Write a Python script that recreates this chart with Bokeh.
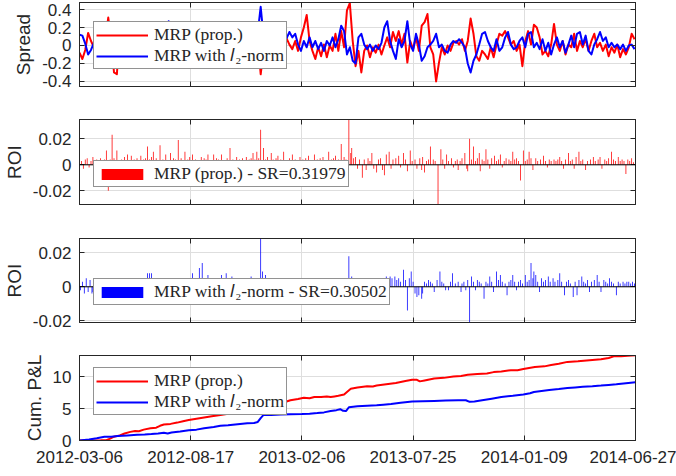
import numpy as np
from bokeh.plotting import figure
from bokeh.layouts import column
from bokeh.models import FixedTicker, Range1d, Legend, LegendItem, LinearAxis, Span
from bokeh.embed import file_html
from bokeh.resources import INLINE

# ---------------- data ----------------
n_days = 581
date_tick_pos = [0, 116, 232, 348, 464, 580]
date_tick_labels = ["2012-03-06", "2012-08-17", "2013-02-06", "2013-07-25", "2014-01-09", "2014-06-27"]

spread_step = 3  # one reading every 3 trading days
spread_prop = [
    -0.08, -0.15, -0.05, 0.14, 0.05, -0.02, 0.03, 0.20, -0.06, 0.08,
    0.31, 0.05, -0.30, -0.32, 0.20, 0.02, -0.10, 0.08, -0.05, 0.12,
    -0.08, 0.04, 0.10, -0.12, 0.06, -0.03, 0.14, -0.06, 0.02, -0.15,
    0.07, 0.11, -0.04, 0.03, -0.11, 0.09, -0.02, 0.13, -0.07, 0.05,
    -0.13, 0.08, 0.00, 0.12, -0.05, 0.21, 0.06, -0.09, 0.10, -0.04,
    0.07, -0.12, 0.24, 0.18, 0.03, -0.08, 0.11, -0.03, 0.05, -0.14,
    0.09, -0.02, 0.06, -0.32, -0.05, 0.10, -0.09, 0.04, 0.13, -0.06,
    0.02, -0.11, 0.08,
    0.01, -0.04, 0.05, -0.06, 0.09, 0.20, 0.34, 0.05, -0.06, -0.15,
    -0.02, -0.12, 0.01, -0.13, 0.00, -0.06, 0.13, -0.06, 0.16, -0.02,
    0.39, 0.47, 0.05, -0.23, -0.06,
    -0.30, -0.06, 0.00, -0.13, -0.02, -0.08, 0.01, -0.10, 0.00, 0.09,
    -0.02, 0.15, 0.05, 0.16, 0.01, 0.13, -0.19, 0.05, -0.04, 0.09,
    -0.06, 0.22, 0.26, 0.35, -0.02, -0.10, -0.40, -0.19, -0.02, -0.10,
    0.00, -0.06, 0.03, 0.05, 0.01, 0.07, -0.06, 0.05, 0.30, 0.13,
    -0.12, -0.17, -0.06, -0.10, -0.15, -0.02, -0.13, 0.01, 0.13, 0.11,
    0.16, 0.09, 0.01, 0.05, -0.06, 0.01, -0.23, 0.05, 0.16, 0.01,
    0.23, 0.20, 0.09, -0.10, -0.06, -0.12, 0.01, 0.24, 0.01, -0.06,
    0.05, -0.10, 0.01, -0.02, 0.13, -0.06, 0.05, -0.02, 0.07, -0.06,
    0.05, 0.13, -0.02, 0.03, -0.06, 0.01, -0.12, -0.02, -0.08, 0.01,
    -0.13, -0.04, -0.10, -0.02, 0.13, 0.07,
]
spread_l2 = [
    0.12, 0.11, 0.02, -0.10, -0.05, 0.03, 0.05, -0.02, 0.08, -0.04,
    0.06, 0.10, -0.08, 0.03, 0.12, -0.06, 0.04, 0.09, -0.03, 0.07,
    -0.10, 0.02, 0.11, -0.05, 0.08, 0.01, -0.07, 0.13, 0.05, -0.02,
    0.15, 0.27, 0.06, -0.04, 0.09, 0.02, -0.08, 0.10, 0.04, -0.03,
    0.07, -0.06, 0.12, 0.03, -0.02, 0.08, -0.09, 0.05, 0.11, 0.00,
    -0.05, 0.09, 0.04, -0.07, 0.06, 0.13, -0.03, 0.02, 0.10, -0.08,
    0.05, 0.12, 0.15, 0.43, 0.10, -0.02, 0.07, 0.04, -0.06, 0.09,
    0.03, 0.12, 0.08,
    0.15, 0.09, 0.13, 0.01, -0.06, 0.05, -0.02, 0.09, -0.02, 0.05,
    -0.04, 0.03, -0.06, 0.05, 0.00, 0.09, -0.02, 0.07, 0.22, 0.16,
    -0.10, -0.02, -0.17, -0.20, 0.09,
    0.13, 0.01, -0.04, 0.01, -0.06, 0.00, -0.04, 0.03, 0.20, 0.27,
    0.05, -0.06, -0.15, 0.07, -0.02, 0.05, 0.27, 0.01, -0.06, 0.13,
    0.01, -0.17, -0.12, -0.02, 0.01, 0.05, 0.13, -0.02, 0.01, -0.06,
    -0.08, 0.01, 0.05, 0.03, 0.07, 0.03, -0.02, -0.20, -0.30, -0.17,
    -0.10, 0.01, 0.13, 0.15, 0.05, -0.02, -0.06, 0.07, -0.06, -0.02,
    0.09, 0.15, 0.01, -0.04, -0.02, 0.05, 0.09, -0.02, 0.13, 0.15,
    -0.02, 0.03, -0.04, 0.07, -0.06, 0.03, -0.10, 0.01, 0.09, -0.02,
    0.05, -0.08, 0.01, 0.11, -0.02, 0.13, 0.15, 0.01, 0.11, -0.06,
    -0.10, 0.01, 0.07, 0.15, 0.05, 0.09, -0.02, 0.03, -0.02, 0.01,
    -0.04, 0.01, -0.06, 0.00, 0.01, -0.04,
]

# ROI per trading day (day index, return)
roi_prop_pts = [
    (2, 0.003), (4, -0.003), (6, 0.004), (8, 0.005), (10, -0.002), (12, 0.003), (14, 0.006), (16, 0.002),
    (18, 0.004), (20, 0.003), (22, 0.005), (24, 0.002), (26, 0.004), (28, 0.011), (30, -0.020), (32, 0.004),
    (34, 0.023), (36, 0.005), (39, 0.011), (41, 0.003), (44, 0.004), (47, 0.006), (50, 0.008), (52, 0.003),
    (54, 0.007), (57, 0.004), (60, 0.005), (62, 0.003), (64, 0.007), (67, 0.004), (69, 0.005), (71, 0.014),
    (73, 0.004), (75, 0.006), (77, 0.010), (80, 0.005), (82, 0.003), (84, 0.015), (87, 0.004), (90, 0.008),
    (92, 0.003), (95, 0.009), (98, 0.005), (100, 0.004), (103, 0.019), (106, 0.005), (108, 0.003), (110, 0.010),
    (113, 0.004), (115, 0.006), (118, 0.008), (121, 0.004), (124, 0.003), (127, 0.006), (130, 0.005), (132, 0.004),
    (134, 0.008), (137, 0.003), (140, 0.008), (143, 0.005), (145, 0.004), (148, 0.008), (151, 0.003), (154, 0.005),
    (157, 0.013), (160, 0.004), (162, 0.003), (164, 0.006), (167, 0.004), (170, 0.005), (172, 0.003), (174, 0.006),
    (177, 0.004), (179, 0.005), (181, 0.009), (183, 0.004), (185, 0.010), (187, 0.005), (189, 0.027), (192, 0.013),
    (194, 0.004), (196, 0.006), (198, 0.003), (200, 0.009), (202, 0.004), (205, 0.005), (207, 0.007), (210, 0.004),
    (213, 0.010), (216, 0.003), (219, 0.005), (222, 0.008), (225, 0.004), (227, 0.003), (230, 0.006), (233, 0.004),
    (236, 0.005), (239, 0.007), (242, 0.003), (245, 0.008), (248, 0.004), (251, 0.005), (254, 0.006), (257, 0.003),
    (260, 0.010), (263, 0.004), (265, 0.005), (267, 0.007), (270, 0.004), (273, 0.016), (276, 0.006), (278, 0.004),
    (281, 0.036), (283, 0.009), (284, 0.013), (286, 0.005), (288, 0.006), (290, -0.003), (292, 0.004), (295, -0.010),
    (297, 0.004), (299, -0.004), (301, 0.005), (303, 0.003), (305, 0.009), (307, -0.003), (310, -0.006), (312, 0.004),
    (314, 0.005), (316, -0.004), (318, -0.008), (320, 0.008), (323, 0.010), (325, -0.003), (327, 0.004), (330, 0.005),
    (333, 0.007), (335, -0.002), (338, 0.009), (340, 0.004), (342, -0.005), (345, 0.011), (347, 0.003), (350, 0.004),
    (352, -0.003), (355, 0.005), (357, -0.004), (358, 0.006), (360, -0.006), (362, 0.003), (364, 0.004), (366, 0.014),
    (369, 0.004), (371, 0.003), (374, -0.031), (377, 0.012), (379, 0.004), (381, -0.003), (383, 0.008), (385, 0.003),
    (388, 0.005), (390, -0.002), (392, 0.003), (394, 0.004), (395, -0.004), (397, 0.003), (399, 0.005), (402, 0.009),
    (404, -0.003), (405, -0.005), (407, 0.020), (409, 0.004), (411, 0.014), (413, 0.003), (415, 0.005), (417, 0.009),
    (418, -0.005), (420, 0.004), (422, 0.003), (424, 0.012), (426, 0.004), (428, -0.003), (430, 0.005), (433, 0.007),
    (435, 0.003), (437, 0.004), (439, 0.008), (441, -0.002), (443, 0.003), (445, 0.005), (448, 0.004), (450, 0.003),
    (452, 0.010), (454, 0.004), (456, 0.005), (458, 0.003), (460, -0.012), (463, 0.011), (465, 0.003), (467, 0.004),
    (469, 0.010), (471, 0.005), (473, -0.004), (476, 0.005), (478, 0.003), (481, 0.004), (484, 0.007), (486, 0.003),
    (488, -0.002), (490, 0.004), (492, 0.003), (495, 0.004), (497, 0.003), (499, 0.004), (501, 0.006), (503, 0.003),
    (505, -0.003), (507, 0.004), (510, 0.009), (512, 0.003), (514, 0.004), (516, -0.003), (518, 0.006), (521, 0.010),
    (523, 0.003), (525, 0.004), (528, -0.004), (530, 0.003), (533, 0.004), (536, 0.006), (538, 0.003), (541, 0.004),
    (543, 0.006), (545, -0.003), (548, 0.004), (550, 0.003), (552, 0.005), (555, 0.010), (557, 0.004), (559, 0.003),
    (562, 0.006), (564, 0.003), (566, 0.004), (568, 0.003), (570, -0.007), (572, 0.004), (574, 0.003), (576, 0.005),
    (578, 0.002), (580, 0.002),
]
roi_l2_pts = [
    (1, -0.002), (3, 0.003), (5, -0.004), (7, 0.005), (9, -0.003), (11, 0.004), (13, -0.004), (14, -0.003),
    (16, 0.005), (19, 0.002), (21, 0.003), (24, 0.004), (27, 0.002), (30, 0.003), (32, 0.005), (35, 0.002),
    (38, 0.003), (41, 0.004), (44, 0.002), (47, 0.003), (52, 0.003), (56, 0.002), (60, 0.003), (65, 0.004),
    (68, 0.002), (71, 0.008), (73, 0.008), (75, 0.008), (78, 0.003), (80, 0.005), (84, 0.002), (88, 0.005),
    (92, 0.003), (97, 0.004), (100, 0.002), (103, 0.005), (106, 0.003), (108, 0.005), (112, 0.002), (115, 0.003),
    (118, 0.008), (121, 0.003), (125, 0.011), (128, 0.014), (131, 0.003), (134, 0.007), (138, 0.002), (142, 0.003),
    (145, 0.002), (148, 0.007), (151, 0.003), (153, 0.008), (156, 0.002), (159, 0.006), (163, 0.003), (167, 0.002),
    (171, 0.003), (175, 0.002), (179, 0.006), (181, 0.003), (183, 0.005), (186, 0.003), (189, 0.029), (191, 0.009),
    (192, 0.004), (194, 0.007), (197, 0.003), (200, 0.004), (203, 0.004), (206, 0.003), (210, 0.004), (214, 0.002),
    (217, 0.003), (220, 0.005), (224, 0.002), (228, 0.004), (232, 0.002), (237, 0.004), (241, 0.003), (245, 0.002),
    (249, 0.005), (252, 0.002), (256, 0.005), (260, 0.002), (264, 0.003), (267, 0.005), (270, 0.002), (273, 0.003),
    (277, 0.002), (281, 0.018), (284, 0.006), (286, 0.003), (288, 0.005), (291, 0.002), (294, 0.003), (297, 0.005),
    (300, 0.002), (303, 0.003), (306, 0.004), (309, 0.002), (312, 0.003), (315, 0.004), (318, 0.005), (320, 0.006),
    (322, 0.004), (324, 0.006), (326, 0.005), (329, 0.006), (331, 0.004), (333, 0.005), (335, 0.003), (338, 0.010),
    (340, 0.004), (342, -0.014), (344, 0.005), (346, 0.009), (348, 0.003), (350, -0.004), (352, -0.006), (354, -0.005),
    (357, -0.007), (358, -0.004), (360, 0.003), (362, 0.002), (364, 0.004), (366, 0.003), (368, 0.002), (370, -0.003),
    (373, 0.004), (376, 0.009), (378, 0.003), (380, 0.002), (382, -0.002), (385, -0.002), (387, 0.003), (389, 0.008),
    (392, 0.002), (395, 0.003), (398, -0.003), (399, 0.002), (401, 0.003), (403, -0.002), (405, 0.004), (407, -0.021),
    (409, 0.006), (411, 0.003), (413, -0.002), (415, 0.004), (417, 0.003), (419, 0.002), (422, -0.007), (424, 0.003),
    (426, 0.002), (428, 0.006), (430, 0.003), (432, -0.003), (435, 0.009), (437, 0.004), (439, 0.007), (441, 0.003),
    (444, 0.002), (446, -0.005), (448, 0.003), (450, 0.004), (452, 0.007), (454, 0.003), (456, -0.002), (458, 0.003),
    (460, 0.004), (462, 0.002), (465, 0.007), (467, 0.003), (469, 0.004), (471, 0.014), (473, 0.005), (474, 0.009),
    (476, 0.007), (478, 0.003), (480, -0.003), (482, 0.005), (484, 0.003), (486, 0.004), (489, 0.006), (491, 0.003),
    (494, 0.005), (496, 0.003), (499, 0.004), (501, 0.008), (503, 0.003), (506, -0.005), (508, 0.003), (510, 0.004),
    (512, 0.002), (515, -0.006), (517, 0.003), (519, -0.005), (521, 0.004), (524, 0.006), (526, 0.003), (528, 0.002),
    (530, 0.004), (532, -0.003), (534, 0.003), (537, 0.004), (540, 0.007), (542, 0.003), (544, -0.003), (547, 0.004),
    (549, 0.003), (551, 0.002), (553, 0.005), (555, 0.003), (557, 0.002), (560, -0.005), (562, 0.003), (564, 0.002),
    (567, 0.003), (569, 0.002), (571, 0.003), (573, 0.003), (575, 0.002), (577, 0.003), (579, 0.002),
]
sr_prop = 0.31979
sr_l2 = 0.30502

# cumulative P&L (day index, value)
pnl_prop_pts = [
    (0, 0.0), (8, 0.03), (15, 0.0), (22, 0.02), (28, 0.05), (32, 0.3), (36, 0.6), (42, 0.8), (47, 1.1),
    (53, 1.35), (58, 1.5), (62, 1.45), (67, 1.7), (74, 1.9), (80, 2.0), (84, 2.3), (88, 2.5), (95, 2.6),
    (102, 2.8), (108, 3.0), (114, 3.2), (122, 3.4), (130, 3.6), (138, 3.8), (147, 4.0), (160, 4.3),
    (175, 4.7), (190, 5.1), (205, 5.7), (212, 5.9), (220, 6.3), (228, 6.5), (234, 6.7), (240, 6.6),
    (245, 6.8), (252, 6.8), (258, 6.9), (262, 6.8), (266, 6.9), (270, 7.0), (276, 7.2), (279, 7.6),
    (283, 8.1), (290, 8.3), (300, 8.5), (306, 8.45), (310, 8.6), (320, 8.8), (330, 9.0), (340, 9.3),
    (347, 9.5), (352, 9.5), (355, 9.25), (360, 9.4), (370, 9.7), (380, 9.8), (390, 10.0), (398, 10.1),
    (405, 10.3), (415, 10.4), (425, 10.5), (432, 10.7), (440, 10.8), (450, 11.0), (457, 11.0), (463, 11.2),
    (475, 11.5), (485, 11.6), (492, 11.8), (500, 12.0), (509, 12.3), (520, 12.4), (535, 12.6), (544, 12.7),
    (552, 12.9), (558, 13.2), (565, 13.2), (572, 13.25), (580, 13.35),
]
pnl_l2_pts = [
    (0, 0.0), (10, 0.15), (18, 0.35), (26, 0.57), (33, 0.6), (40, 0.7), (50, 0.8), (60, 0.9), (68, 0.95),
    (75, 1.0), (82, 1.1), (88, 1.2), (92, 1.1), (96, 1.25), (105, 1.4), (114, 1.6), (122, 1.7), (130, 1.9),
    (140, 2.1), (147, 2.3), (155, 2.4), (165, 2.55), (175, 2.7), (182, 2.75), (186, 2.9), (189, 3.5),
    (192, 4.0), (200, 4.0), (210, 4.05), (220, 4.1), (232, 4.15), (240, 4.2), (248, 4.3), (255, 4.4),
    (262, 4.6), (268, 4.75), (272, 4.9), (275, 4.65), (278, 4.6), (281, 5.2), (290, 5.35), (300, 5.45),
    (310, 5.5), (317, 5.6), (325, 5.7), (335, 5.9), (347, 6.1), (358, 6.15), (370, 6.2), (382, 6.25),
    (395, 6.3), (403, 6.3), (407, 6.05), (412, 6.1), (420, 6.3), (430, 6.55), (440, 6.8), (452, 7.0),
    (463, 7.2), (470, 7.4), (474, 7.6), (482, 7.75), (490, 7.9), (500, 8.05), (509, 8.2), (517, 8.3),
    (525, 8.4), (535, 8.5), (544, 8.6), (552, 8.7), (560, 8.8), (570, 8.95), (580, 9.1),
]

# ---------------- styling ----------------
FONT = "Liberation Sans"
SERIF = "Liberation Serif"
AX = "#262626"
GRID = "#dedede"
RED = "#ff0000"
BLUE = "#0000ff"
FRAME_W = 556


def hide_labels(ax):
    ax.major_label_text_font_size = "0px"
    ax.major_label_text_color = None
    ax.major_label_text_alpha = 0
    ax.major_label_standoff = 0


def make_panel(y_range, y_ticks, y_tick_labels, y_label, frame_h, b_top, b_bot, show_dates):
    p = figure(frame_width=FRAME_W, frame_height=frame_h,
               min_border_left=75, min_border_right=45,
               min_border_top=b_top, min_border_bottom=b_bot,
               x_range=Range1d(0, n_days - 1), y_range=Range1d(*y_range),
               output_backend="svg", toolbar_location=None)
    p.background_fill_color = "white"
    p.border_fill_color = "white"
    xt = FixedTicker(ticks=date_tick_pos)
    yt = FixedTicker(ticks=y_ticks)
    p.xaxis.ticker = xt
    p.yaxis.ticker = yt
    p.xgrid.ticker = xt
    p.ygrid.ticker = yt
    for g in (p.xgrid, p.ygrid):
        g.grid_line_color = GRID
        g.grid_line_width = 1

    def style_axis(ax):
        ax.axis_line_color = AX
        ax.axis_line_width = 1
        ax.major_tick_line_color = AX
        ax.major_tick_in = 5
        ax.major_tick_out = 0
        ax.minor_tick_line_color = None
        ax.major_label_text_font = FONT
        ax.major_label_text_color = AX
        ax.major_label_text_font_size = "17px"

    for ax in p.yaxis:
        style_axis(ax)
        ax.major_label_overrides = {t: s for t, s in zip(y_ticks, y_tick_labels)}
        ax.major_label_standoff = 8
        ax.axis_label = y_label
        ax.axis_label_text_font = FONT
        ax.axis_label_text_font_size = "19px"
        ax.axis_label_text_font_style = "normal"
        ax.axis_label_text_color = AX
        ax.axis_label_standoff = 5
    for ax in p.xaxis:
        style_axis(ax)
        if show_dates:
            ax.major_label_overrides = {t: s for t, s in zip(date_tick_pos, date_tick_labels)}
            ax.major_label_standoff = 10
        else:
            hide_labels(ax)

    top = LinearAxis(ticker=xt)
    style_axis(top)
    hide_labels(top)
    p.add_layout(top, "above")
    right = LinearAxis(ticker=yt)
    style_axis(right)
    hide_labels(right)
    p.add_layout(right, "right")

    p.outline_line_color = AX
    p.outline_line_width = 1
    return p


def make_legend(items, loc, glyph_h):
    lg = Legend(items=items, location=loc)
    lg.margin = 0
    lg.padding = 2
    lg.spacing = 0
    lg.glyph_width = 52
    lg.glyph_height = glyph_h
    lg.label_height = glyph_h
    lg.label_standoff = 6
    lg.label_text_font = SERIF
    lg.label_text_font_size = "17.5px"
    lg.label_text_color = AX
    lg.border_line_color = AX
    lg.border_line_width = 1
    lg.background_fill_color = "white"
    lg.background_fill_alpha = 1.0
    return lg


# ---------------- panel 1: spread ----------------
p1 = make_panel((-0.456, 0.478), [-0.4, -0.2, 0, 0.2, 0.4], ["-0.4", "-0.2", "0", "0.2", "0.4"],
                "Spread", 84, 2, 16, False)
x_prop = [k * spread_step for k in range(len(spread_prop))]
x_l2 = [k * spread_step for k in range(len(spread_l2))]
r1 = p1.line(x_prop, spread_prop, line_color=RED, line_width=2, line_join="round")
r2 = p1.line(x_l2, spread_l2, line_color=BLUE, line_width=2, line_join="round")
p1.add_layout(make_legend([LegendItem(label="MRP (prop.)", renderers=[r1]),
                           LegendItem(label="MRP with \U0001D459\u2082-norm", renderers=[r2])],
                          (14, 17), 16))

# ---------------- panel 2: ROI prop ----------------
p2 = make_panel((-0.0305, 0.0348), [-0.02, 0, 0.02], ["-0.02", "0", "0.02"], "ROI", 85, 17, 17, False)
d_prop, v_prop = zip(*roi_prop_pts)
rb1 = p2.vbar(x=list(d_prop), top=list(v_prop), bottom=0, width=0.8, fill_color=RED, line_color=None)
p2.add_layout(Span(location=0, dimension="width", line_color="#000000", line_width=1))
p2.add_layout(make_legend([LegendItem(label="MRP (prop.) - SR=%.5f" % sr_prop, renderers=[rb1])],
                          (14, 17), 14))

# ---------------- panel 3: ROI l2 ----------------
p3 = make_panel((-0.021, 0.0284), [-0.02, 0, 0.02], ["-0.02", "0", "0.02"], "ROI", 84, 17, 16, False)
d_l2, v_l2 = zip(*roi_l2_pts)
rb2 = p3.vbar(x=list(d_l2), top=list(v_l2), bottom=0, width=0.8, fill_color=BLUE, line_color=None)
p3.add_layout(Span(location=0, dimension="width", line_color="#000000", line_width=1))
p3.add_layout(make_legend([LegendItem(label="MRP with \U0001D459\u2082-norm - SR=%.5f" % sr_l2, renderers=[rb2])],
                          (14, 17), 14))

# ---------------- panel 4: cumulative P&L ----------------
p4 = make_panel((0, 13.3), [0, 5, 10], ["0", "5", "10"], "Cum. P&L", 85, 17, 36, True)
cd_prop, cv_prop = zip(*pnl_prop_pts)
cd_l2, cv_l2 = zip(*pnl_l2_pts)
r41 = p4.line(list(cd_prop), list(cv_prop), line_color=RED, line_width=2)
r42 = p4.line(list(cd_l2), list(cv_l2), line_color=BLUE, line_width=2)
p4.add_layout(make_legend([LegendItem(label="MRP (prop.)", renderers=[r41]),
                           LegendItem(label="MRP with \U0001D459\u2082-norm", renderers=[r42])],
                          (14, 25), 16))

layout = column(p1, p2, p3, p4, spacing=0)
open("out.html", "w").write(file_html(layout, INLINE))
